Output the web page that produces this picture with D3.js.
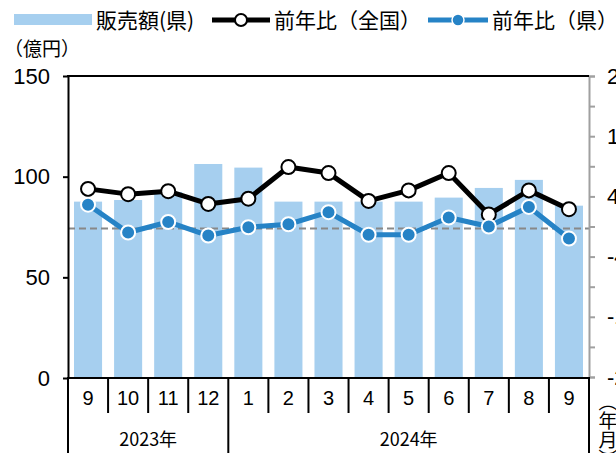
<!DOCTYPE html>
<html>
<head>
<meta charset="utf-8">
<script src="https://cdn.jsdelivr.net/npm/d3@7"></script>
<style>
	body { margin: 0; background: #fff; }
	svg { display: block; font-family: "Noto Sans CJK JP", "Noto Sans", sans-serif; }
</style>
</head>
<body>
<svg id="chart" width="616" height="453"></svg>
<script>
	/* Chart data */
	let months = ["9", "10", "11", "12", "1", "2", "3", "4", "5", "6", "7", "8", "9"];
	let monthYears = ["2023年", "2023年", "2023年", "2023年", "2024年", "2024年", "2024年", "2024年", "2024年", "2024年", "2024年", "2024年", "2024年"];
	let sales = [87.6, 88.4, 92.4, 106.3, 104.5, 87.6, 87.6, 87.6, 87.6, 89.6, 94.4, 98.4, 85.6];
	let yoyNational = [5.0, 4.3, 4.7, 3.0, 3.7, 7.9, 7.1, 3.4, 4.8, 7.1, 1.6, 4.8, 2.3];
	let yoyPref = [2.9, -0.8, 0.6, -1.2, -0.1, 0.3, 1.9, -1.1, -1.1, 1.2, 0.0, 2.6, -1.6];
	let leftTicks = [0, 50, 100, 150];
	let rightTicks = [-20, -16, -12, -8, -4, 0, 4, 8, 12, 16, 20];
	let rightLabels = [-20, -12, -4, 4, 12, 20];

	/* Layout */
	let plotLeft = 68;
	let plotRight = 589;
	let plotTop = 76;
	let plotBottom = 378;
	let monthRowBottom = 413;
	let chartBottom = 453;
	let numFont = "Liberation Sans Narrow, Liberation Sans, Arial, sans-serif";

	let colors = { bar: "#a6cfef", national: "#000000", pref: "#2683c6", zero: "#888888", axisRight: "#a0a0a0" };

	let svg = d3.select("#chart");
	let idx = d3.range(months.length);

	// Band scale with outer padding = inner padding / 2 so boundaries fall on step multiples
	let xScale = d3.scaleBand().domain(idx).range([plotLeft, plotRight]).paddingInner(0.3).paddingOuter(0.15);
	let xEdge = d3.scaleLinear().domain([0, months.length]).range([plotLeft, plotRight]);
	let yLeft = d3.scaleLinear().domain([0, 150]).range([plotBottom, plotTop]);
	let yRight = d3.scaleLinear().domain([-20, 20]).range([plotBottom - 1, plotTop]);
	let xMid = function(i) { return xScale(i) + xScale.bandwidth() / 2; };

	// Bars
	svg.append("g").selectAll("rect")
		.data(idx)
		.enter()
		.append("rect")
		.attr("x", function(i) { return xScale(i); })
		.attr("width", xScale.bandwidth())
		.attr("y", function(i) { return yLeft(sales[i]); })
		.attr("height", function(i) { return yLeft(0) - yLeft(sales[i]); })
		.attr("fill", colors.bar);

	// Zero reference line on the right scale
	svg.append("line")
		.attr("x1", plotLeft).attr("x2", plotRight)
		.attr("y1", yRight(0) + 2).attr("y2", yRight(0) + 2)
		.attr("stroke", colors.zero)
		.attr("stroke-width", 2)
		.attr("stroke-dasharray", "7,4");

	// Right axis (gray, outward ticks, labels clipped by the window edge)
	let rightAxis = d3.axisRight(yRight)
		.tickValues(rightTicks)
		.tickSize(6)
		.tickPadding(12)
		.tickFormat(function(d) { return rightLabels.indexOf(d) >= 0 ? String(d) : ""; });
	let gRight = svg.append("g")
		.attr("transform", "translate(" + plotRight + ",0)")
		.call(rightAxis);
	gRight.select(".domain").attr("stroke", colors.axisRight).attr("stroke-width", 2);
	gRight.selectAll(".tick line").attr("stroke", colors.axisRight).attr("stroke-width", 2);
	gRight.selectAll(".tick text")
		.attr("font-size", 22)
		.attr("font-family", numFont)
		.attr("fill", "#000");

	// Left axis
	let leftAxis = d3.axisLeft(yLeft)
		.tickValues(leftTicks)
		.tickSize(5)
		.tickPadding(13)
		.tickSizeOuter(0);
	let gLeft = svg.append("g")
		.attr("transform", "translate(" + plotLeft + ",0)")
		.call(leftAxis);
	gLeft.select(".domain").attr("stroke", "#000").attr("stroke-width", 2);
	gLeft.selectAll(".tick line").attr("stroke", "#000").attr("stroke-width", 2);
	gLeft.selectAll(".tick text")
		.attr("font-size", 22)
		.attr("font-family", numFont)
		.attr("fill", "#000");

	// Frame top and baseline
	svg.append("line")
		.attr("x1", plotLeft - 1).attr("x2", plotRight)
		.attr("y1", plotTop).attr("y2", plotTop)
		.attr("stroke", "#000").attr("stroke-width", 2);
	svg.append("line")
		.attr("x1", plotLeft - 1).attr("x2", plotRight + 1)
		.attr("y1", plotBottom).attr("y2", plotBottom)
		.attr("stroke", "#000").attr("stroke-width", 2);

	// Category axis: month separators, year separators, labels
	let gCat = svg.append("g");
	gCat.selectAll(".msep")
		.data(d3.range(1, months.length))
		.enter()
		.append("line")
		.attr("x1", function(i) { return xEdge(i); })
		.attr("x2", function(i) { return xEdge(i); })
		.attr("y1", plotBottom)
		.attr("y2", function(i) { return monthYears[i] !== monthYears[i - 1] ? chartBottom : monthRowBottom; })
		.attr("stroke", "#000")
		.attr("stroke-width", 2);
	[0, months.length].forEach(function(i) {
		gCat.append("line")
			.attr("x1", xEdge(i)).attr("x2", xEdge(i))
			.attr("y1", plotBottom).attr("y2", chartBottom)
			.attr("stroke", "#000").attr("stroke-width", 2);
	});
	gCat.selectAll(".mlab")
		.data(idx)
		.enter()
		.append("text")
		.attr("x", function(i) { return xMid(i); })
		.attr("y", 405)
		.attr("text-anchor", "middle")
		.attr("font-family", numFont)
		.attr("font-size", 20)
		.text(function(i) { return months[i]; });

	let yearNames = Array.from(new Set(monthYears));
	gCat.selectAll(".ylab")
		.data(yearNames)
		.enter()
		.append("text")
		.attr("x", function(y) {
			let first = monthYears.indexOf(y);
			let last = monthYears.lastIndexOf(y) + 1;
			return (xEdge(first) + xEdge(last)) / 2;
		})
		.attr("y", 446)
		.attr("text-anchor", "middle")
		.attr("font-size", 18)
		.text(function(y) { return y; });

	// (年月) vertical unit label
	svg.append("text")
		.attr("x", 608)
		.attr("y", 392)
		.attr("font-size", 19)
		.attr("writing-mode", "vertical-rl")
		.text("（年月）");

	// Lines
	let lineGen = function(values) {
		return d3.line()
			.x(function(i) { return xMid(i); })
			.y(function(i) { return yRight(values[i]); })(idx);
	};

	svg.append("path")
		.attr("d", lineGen(yoyNational))
		.attr("fill", "none")
		.attr("stroke", colors.national)
		.attr("stroke-width", 5)
		.attr("stroke-linejoin", "round");
	svg.append("g").selectAll("circle")
		.data(idx)
		.enter()
		.append("circle")
		.attr("cx", function(i) { return xMid(i); })
		.attr("cy", function(i) { return yRight(yoyNational[i]); })
		.attr("r", 7)
		.attr("fill", "#fff")
		.attr("stroke", colors.national)
		.attr("stroke-width", 2);

	svg.append("path")
		.attr("d", lineGen(yoyPref))
		.attr("fill", "none")
		.attr("stroke", colors.pref)
		.attr("stroke-width", 5)
		.attr("stroke-linejoin", "round");
	svg.append("g").selectAll("circle")
		.data(idx)
		.enter()
		.append("circle")
		.attr("cx", function(i) { return xMid(i); })
		.attr("cy", function(i) { return yRight(yoyPref[i]); })
		.attr("r", 7)
		.attr("fill", colors.pref)
		.attr("stroke", "#fff")
		.attr("stroke-width", 2);

	// Unit label
	svg.append("text")
		.attr("x", 4)
		.attr("y", 56)
		.attr("font-size", 19)
		.text("（億円）");

	// Legend
	let legend = svg.append("g").attr("font-size", 21);
	legend.append("rect")
		.attr("x", 14).attr("y", 14).attr("width", 78).attr("height", 11)
		.attr("fill", colors.bar);
	legend.append("text").attr("x", 96).attr("y", 28).text("販売額(県)");

	legend.append("line")
		.attr("x1", 212).attr("x2", 270).attr("y1", 20).attr("y2", 20)
		.attr("stroke", colors.national).attr("stroke-width", 5);
	legend.append("circle")
		.attr("cx", 241).attr("cy", 20).attr("r", 6)
		.attr("fill", "#fff").attr("stroke", colors.national).attr("stroke-width", 2);
	legend.append("text").attr("x", 274).attr("y", 28).text("前年比（全国）");

	legend.append("line")
		.attr("x1", 428).attr("x2", 488).attr("y1", 20).attr("y2", 20)
		.attr("stroke", colors.pref).attr("stroke-width", 5);
	legend.append("circle")
		.attr("cx", 458).attr("cy", 20).attr("r", 6)
		.attr("fill", colors.pref).attr("stroke", "#fff").attr("stroke-width", 1.5);
	legend.append("text").attr("x", 492).attr("y", 28).text("前年比（県）");
</script>
</body>
</html>
